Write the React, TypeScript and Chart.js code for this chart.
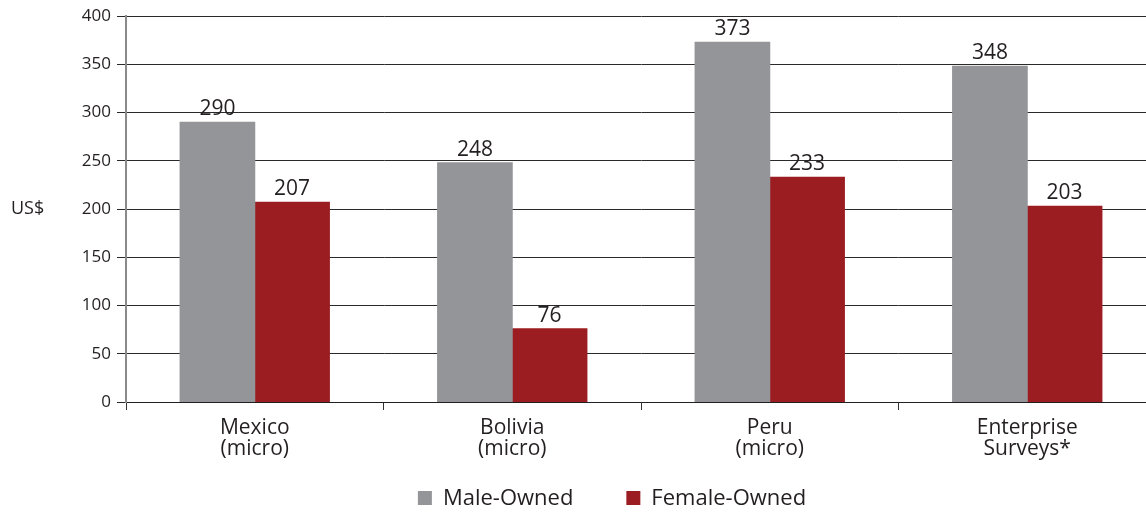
import React, { useEffect, useRef } from "react";
import { Chart, registerables } from "chart.js";

Chart.register(...registerables);

const categories: string[][] = [
  ["Mexico", "(micro)"],
  ["Bolivia", "(micro)"],
  ["Peru", "(micro)"],
  ["Enterprise", "Surveys*"],
];
const maleOwned: number[] = [290, 248, 373, 348];
const femaleOwned: number[] = [207, 76, 233, 203];
const seriesNames: string[] = ["Male-Owned", "Female-Owned"];
const yTicks: number[] = [0, 50, 100, 150, 200, 250, 300, 350, 400];
const yAxisLabel = "US$";

const FONT = "'Open Sans', 'Noto Sans', sans-serif";
const TEXT = "#231f20";
const GRAY = "#939598";
const RED = "#9b1d21";

const valueLabels = {
  id: "valueLabels",
  afterDatasetsDraw(chart: any) {
    const ctx = chart.ctx;
    ctx.save();
    ctx.font = `21px ${FONT}`;
    ctx.fillStyle = TEXT;
    ctx.textAlign = "center";
    ctx.textBaseline = "alphabetic";
    chart.data.datasets.forEach((ds: any, i: number) => {
      const meta = chart.getDatasetMeta(i);
      meta.data.forEach((el: any, j: number) => {
        ctx.fillText(String(ds.data[j]), el.x, el.y - 7);
      });
    });
    ctx.restore();
  },
};

const sideTitle = {
  id: "sideTitle",
  afterDraw(chart: any) {
    const ctx = chart.ctx;
    const y = chart.scales.y.getPixelForValue(200);
    ctx.save();
    ctx.font = `18px ${FONT}`;
    ctx.fillStyle = TEXT;
    ctx.textAlign = "left";
    ctx.textBaseline = "middle";
    ctx.fillText(yAxisLabel, 11, y);
    ctx.restore();
  },
};

const customLegend = {
  id: "customLegend",
  afterDraw(chart: any) {
    const ctx = chart.ctx;
    ctx.save();
    ctx.font = `22px ${FONT}`;
    ctx.textBaseline = "middle";
    ctx.textAlign = "left";
    const box = 14;
    const gapText = 11;
    const gapItem = 53;
    const items = chart.data.datasets.map((ds: any) => ({
      label: ds.label,
      color: ds.backgroundColor,
      w: ctx.measureText(ds.label).width,
    }));
    let total = 0;
    items.forEach((it: any, i: number) => {
      total += box + gapText + it.w + (i < items.length - 1 ? gapItem : 0);
    });
    const center = 612;
    let x = center - total / 2;
    const cy = 498;
    items.forEach((it: any) => {
      ctx.fillStyle = it.color;
      ctx.fillRect(x, cy - box / 2, box, box);
      x += box + gapText;
      ctx.fillStyle = TEXT;
      ctx.fillText(it.label, x, cy + 1);
      x += it.w + gapItem;
    });
    ctx.restore();
  },
};

export default function App() {
  const ref = useRef<HTMLCanvasElement | null>(null);
  useEffect(() => {
    if (!ref.current) return;
    const chart = new Chart(ref.current, {
      type: "bar",
      data: {
        labels: categories,
        datasets: [
          {
            label: seriesNames[0],
            data: maleOwned,
            backgroundColor: GRAY,
            borderWidth: 0,
            inflateAmount: 0.5,
            categoryPercentage: 0.58,
            barPercentage: 1,
          },
          {
            label: seriesNames[1],
            data: femaleOwned,
            backgroundColor: RED,
            borderWidth: 0,
            inflateAmount: 0.5,
            categoryPercentage: 0.58,
            barPercentage: 1,
          },
        ],
      },
      options: {
        animation: false,
        responsive: false,
        maintainAspectRatio: false,
        layout: { padding: { left: 68, right: 4, top: 16, bottom: 40 } },
        plugins: {
          legend: { display: false },
          tooltip: { enabled: false },
        },
        scales: {
          x: {
            offset: true,
            grid: {
              display: true,
              drawOnChartArea: false,
              offset: true,
              tickLength: 8,
              color: "#333333",
            },
            border: { color: "#231f20", width: 1 },
            ticks: {
              color: TEXT,
              font: { family: FONT, size: 21, lineHeight: 0.97 },
              padding: 8,
              maxRotation: 0,
              autoSkip: false,
            },
            afterFit(scale: any) {
              scale.height = 72;
            },
          },
          y: {
            min: 0,
            max: 400,
            afterBuildTicks(scale: any) {
              scale.ticks = yTicks.map((v) => ({ value: v }));
            },
            grid: {
              color: "#2a2a2a",
              lineWidth: 1,
              tickLength: 9,
            },
            border: { color: "#8a8a8a", width: 2 },
            ticks: {
              color: TEXT,
              font: { family: FONT, size: 17 },
              padding: 6,
            },
            afterFit(scale: any) {
              scale.width = 58;
            },
          },
        },
      },
      plugins: [valueLabels, sideTitle, customLegend],
    });
    return () => chart.destroy();
  }, []);
  return (
    <div
      style={{
        position: "fixed",
        left: 0,
        top: 0,
        width: 1146,
        height: 514,
        overflow: "hidden",
        background: "#ffffff",
      }}
    >
      <canvas ref={ref} width={1160} height={514} style={{ width: 1160, height: 514, display: "block" }} />
    </div>
  );
}
